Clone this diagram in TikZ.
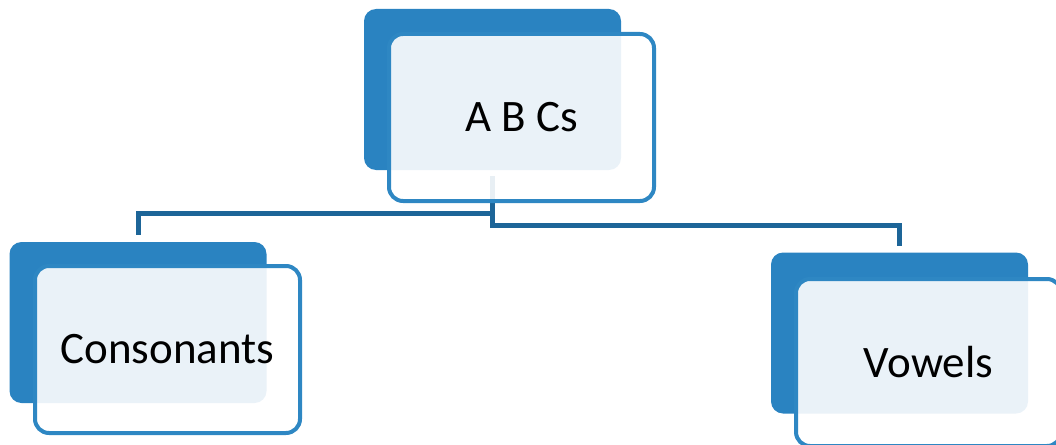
\documentclass[tikz,border=0pt]{standalone}
\usepackage{fontspec}
\setmainfont{Carlito}
\definecolor{backblue}{HTML}{2A83C1}
\definecolor{edgeblue}{HTML}{2E87C3}
\definecolor{connblue}{HTML}{1D6598}
\begin{document}
\begin{tikzpicture}[x=1pt,y=-1pt,
  backbox/.style={fill=backblue, draw=none, rounded corners=12pt, minimum width=257pt, minimum height=161pt, inner sep=0pt, outer sep=0pt},
  frontbox/.style={fill=white, fill opacity=0.9, draw=edgeblue, line width=4pt, rounded corners=14pt, minimum width=265pt, minimum height=167pt, inner sep=0pt, outer sep=0pt, text opacity=1, font=\fontsize{45}{53}\selectfont},
  conn/.style={draw=connblue, line width=5pt}]
\useasboundingbox (0,0) rectangle (1056,444);
\clip (0,0) rectangle (1056,444);
% back boxes
\node[backbox] (tb) at (492.5,89.5) {};
\node[backbox] (lb) at (138,322.5) {};
\node[backbox] (rb) at (899.5,333) {};
% connectors
\coordinate (yL) at (0,213);
\coordinate (yR) at (0,225);
\draw[conn, shorten >=7pt] ([yshift=-6pt]tb.south) -- (tb.south |- yL) -| (lb.north);
\draw[conn, shorten >=7pt] (tb.south |- yL) -- (tb.south |- yR) -| (rb.north);
% front boxes
\node[frontbox] (tf) at (521.5,117.5) {A B Cs};
\node[frontbox] (lf) at (167.5,349.5) {Consonants};
\node[frontbox] (rf) at (928.5,362.5) {Vowels};
\end{tikzpicture}
\end{document}
